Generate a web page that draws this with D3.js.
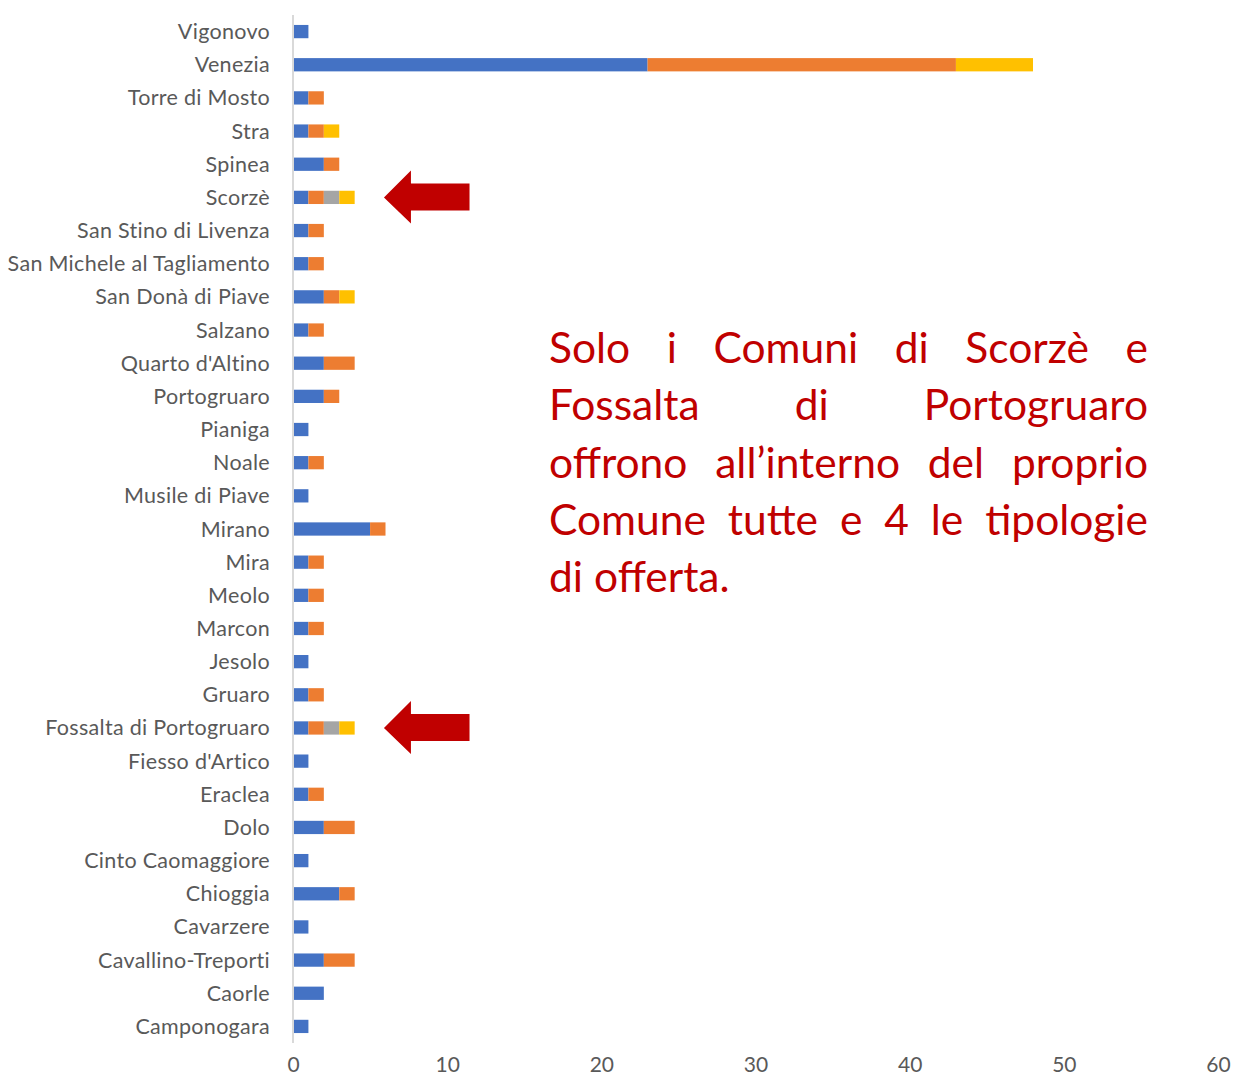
<!DOCTYPE html>
<html>
<head>
<meta charset="utf-8">
<script src="https://cdn.jsdelivr.net/npm/d3@7"></script>
<style>
  body { margin: 0; background: #fff; }
  svg { display: block; }
</style>
</head>
<body>
<div id="chart"></div>
<script>
var svgWidth = 1234;
var svgHeight = 1081;

// categories, top to bottom as shown
var comuni = ["Vigonovo", "Venezia", "Torre di Mosto", "Stra", "Spinea", "Scorzè",
  "San Stino di Livenza", "San Michele al Tagliamento", "San Donà di Piave", "Salzano",
  "Quarto d'Altino", "Portogruaro", "Pianiga", "Noale", "Musile di Piave", "Mirano",
  "Mira", "Meolo", "Marcon", "Jesolo", "Gruaro", "Fossalta di Portogruaro",
  "Fiesso d'Artico", "Eraclea", "Dolo", "Cinto Caomaggiore", "Chioggia", "Cavarzere",
  "Cavallino-Treporti", "Caorle", "Camponogara"];

// series values (same order as comuni)
var serie1 = [1, 23, 1, 1, 2, 1, 1, 1, 2, 1, 2, 2, 1, 1, 1, 5, 1, 1, 1, 1, 1, 1, 1, 1, 2, 1, 3, 1, 2, 2, 1];
var serie2 = [0, 20, 1, 1, 1, 1, 1, 1, 1, 1, 2, 1, 0, 1, 0, 1, 1, 1, 1, 0, 1, 1, 0, 1, 2, 0, 1, 0, 2, 0, 0];
var serie3 = [0, 0, 0, 0, 0, 1, 0, 0, 0, 0, 0, 0, 0, 0, 0, 0, 0, 0, 0, 0, 0, 1, 0, 0, 0, 0, 0, 0, 0, 0, 0];
var serie4 = [0, 5, 0, 1, 0, 1, 0, 0, 1, 0, 0, 0, 0, 0, 0, 0, 0, 0, 0, 0, 0, 1, 0, 0, 0, 0, 0, 0, 0, 0, 0];

var xTicks = [0, 10, 20, 30, 40, 50, 60];
var evidenziati = ["Scorzè", "Fossalta di Portogruaro"];
var nota = ["Solo i Comuni di Scorzè e", "Fossalta di Portogruaro",
  "offrono all’interno del proprio", "Comune tutte e 4 le tipologie", "di offerta."];

var colori = ["#4472C4", "#ED7D31", "#A5A5A5", "#FFC000"];
var chiavi = ["s1", "s2", "s3", "s4"];

var tabella = comuni.map((c, i) => ({
  comune: c, s1: serie1[i], s2: serie2[i], s3: serie3[i], s4: serie4[i]
}));

var svg = d3.select("#chart")
    .append("svg")
    .attr("width", svgWidth)
    .attr("height", svgHeight);

var x = d3.scaleLinear().domain([0, 60]).range([293, 1218]);
var y = d3.scaleBand().domain(comuni).range([15, 1043]).paddingInner(0.6).paddingOuter(0.3);

var stack = d3.stack().keys(chiavi)(tabella);

// Stacked bars
svg.append("g")
  .selectAll("g")
  .data(stack)
  .enter()
  .append("g")
    .attr("fill", (d, i) => colori[i])
  .selectAll("rect")
  .data(d => d)
  .enter()
  .append("rect")
    .attr("x", d => x(d[0]))
    .attr("y", d => y(d.data.comune))
    .attr("width", d => x(d[1]) - x(d[0]))
    .attr("height", y.bandwidth());

// vertical axis line
svg.append("line")
  .attr("x1", x(0)).attr("x2", x(0))
  .attr("y1", 15).attr("y2", 1043)
  .attr("stroke", "#d9d9d9")
  .attr("stroke-width", 2);

// category labels
svg.append("g")
  .selectAll("text")
  .data(comuni)
  .enter()
  .append("text")
    .attr("x", 270)
    .attr("y", d => y(d) + y.bandwidth() / 2)
    .attr("dy", "0.35em")
    .attr("text-anchor", "end")
    .attr("fill", "#595959")
    .style("font-family", "Lato, 'Open Sans', sans-serif")
    .style("font-size", "21.5px")
    .style("letter-spacing", "0.3px")
    .text(d => d);

// x axis tick labels
var bottomAxis = d3.axisBottom(x).tickValues(xTicks).tickSize(0).tickPadding(0);
var asseX = svg.append("g")
  .attr("transform", "translate(0, 1057)")
  .call(bottomAxis);
asseX.select(".domain").remove();
asseX.selectAll("text")
  .attr("dy", "0.71em")
  .attr("fill", "#595959")
  .style("font-family", "Lato, 'Open Sans', sans-serif")
  .style("font-size", "21px");

// red block arrows pointing at the two comuni
evidenziati.forEach(function(c) {
  var cy = y(c) + y.bandwidth() / 2;
  var tip = x(5.9), head = x(7.65), end = x(11.45);
  var p = d3.path();
  p.moveTo(tip, cy);
  p.lineTo(head, cy - 27);
  p.lineTo(head, cy - 14);
  p.lineTo(end, cy - 14);
  p.lineTo(end, cy + 13);
  p.lineTo(head, cy + 13);
  p.lineTo(head, cy + 26);
  p.closePath();
  svg.append("path").attr("d", p.toString()).attr("fill", "#C00000");
});

// justified note
var notaG = svg.append("g")
  .attr("fill", "#C00000")
  .style("font-family", "Lato, 'Open Sans', sans-serif")
  .style("font-size", "42.5px");
var left = 549, right = 1148;
var spazioNat = 11;
nota.forEach(function(riga, i) {
  var by = 363 + i * 57.3;
  var parole = riga.split(" ");
  var nodi = parole.map(w => notaG.append("text").attr("y", by).text(w));
  var larghezze = nodi.map(n => n.node().getComputedTextLength());
  var gap = spazioNat;
  if (i < nota.length - 1 && parole.length > 1) {
    gap = (right - left - d3.sum(larghezze)) / (parole.length - 1);
  }
  var cx = left;
  nodi.forEach(function(n, j) {
    n.attr("x", cx);
    cx += larghezze[j] + gap;
  });
});
</script>
</body>
</html>
